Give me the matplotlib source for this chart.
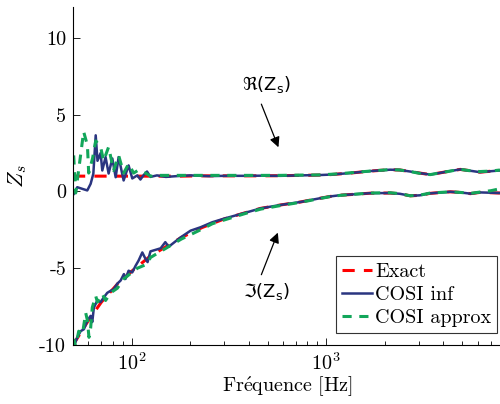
import matplotlib
matplotlib.use("Agg")
import matplotlib.pyplot as plt
import numpy as np
from matplotlib.ticker import LogLocator, LogFormatterMathtext, NullFormatter

plt.rcParams['font.family'] = ['cmr10', 'DejaVu Serif']
plt.rcParams['mathtext.fontset'] = 'cm'
plt.rcParams['axes.unicode_minus'] = False
plt.rcParams['axes.formatter.use_mathtext'] = True

# ---------------- data ----------------
# Exact
f_exact = [50, 60, 70, 85, 100, 125, 150, 180, 230, 300, 380, 460, 580, 740, 920, 1050,
           1180, 1330, 1680, 2130, 2390, 2700, 3020, 3420, 4330, 4880, 5500, 6150, 7000, 7800]
re_exact = [1.0, 1.0, 1.0, 1.0, 1.0, 1.0, 1.0, 1.0, 1.02, 1.02, 1.02, 1.02, 1.03, 1.05, 1.07, 1.1,
            1.15, 1.2, 1.33, 1.42, 1.4, 1.3, 1.2, 1.1, 1.33, 1.44, 1.35, 1.26, 1.32, 1.37]
im_exact = [-10.0, -8.4, -7.2, -6.0, -5.2, -4.2, -3.6, -3.0, -2.35, -1.78, -1.4, -1.1, -0.88, -0.68,
            -0.45, -0.32, -0.24, -0.2, -0.11, -0.1, -0.15, -0.28, -0.25, -0.12, -0.02, -0.06, -0.14,
            -0.06, -0.08, -0.1]

# common high-frequency abscissa for the COSI curves
f_hi = [300, 380, 460, 580, 740, 920, 1050, 1180, 1330, 1680, 2130, 2390, 2700, 3020, 3420,
        4330, 4880, 5500, 6150, 7000, 7800]

# COSI inf
f_inf_re_lo = [50.5, 52.6, 55.9, 59.2, 61.6, 63.6, 65.4, 66.8, 69.3, 70.7, 73.5, 76.2, 79.6,
               82.8, 85.8, 91, 96.5, 100.8, 107, 111, 115, 120, 125, 135, 150, 170, 200, 250]
re_inf_lo = [-0.15, 0.28, 0.17, 0.07, 0.5, 1.16, 3.66, 2.0, 2.5, 1.37, 2.24, 1.17, 2.15,
             0.93, 2.24, 0.72, 1.7, 0.85, 1.05, 0.78, 1.05, 1.3, 0.95, 1.05, 0.95, 1.0, 1.05, 1.0]
re_inf_hi = [1.02, 1.02, 1.03, 1.02, 1.05, 1.07, 1.1, 1.15, 1.2, 1.33, 1.42, 1.4, 1.3, 1.2, 1.1,
             1.33, 1.44, 1.35, 1.26, 1.32, 1.37]
f_inf_im_lo = [50.5, 52.6, 54.7, 56.9, 59.3, 61.6, 62.8, 64, 66.7, 69.3, 72, 75, 78, 81, 84.5,
               87.8, 91.3, 93, 96.5, 100.8, 104.8, 108.6, 113.5, 118, 120.8, 125, 132.8, 141,
               149, 155, 178, 201, 226, 260]
im_inf_lo = [-10.07, -9.5, -9.1, -8.97, -8.4, -8.1, -8.5, -7.56, -7.1, -7.2, -6.9, -6.6, -6.47,
             -6.36, -6.0, -5.8, -5.38, -5.7, -5.16, -5.27, -4.84, -4.5, -3.97, -4.4, -4.6, -3.9,
             -3.8, -3.7, -3.3, -3.6, -3.0, -2.55, -2.33, -2.0]
im_inf_hi = [-1.76, -1.4, -1.1, -0.88, -0.68, -0.45, -0.32, -0.24, -0.2, -0.11, -0.1, -0.15,
             -0.28, -0.25, -0.12, -0.02, -0.06, -0.14, -0.06, -0.08, -0.1]

# COSI approx
f_apx_re_lo = [50.4, 51.6, 54.1, 56.7, 59.3, 60.2, 63, 65.4, 69.3, 71.8, 76.2, 80.8, 85.8, 91,
               96.5, 102.4, 108.6, 118, 125, 140, 170, 200, 250]
re_apx_lo = [2.35, -0.1, 1.9, 3.9, 3.0, 1.2, 2.15, 3.3, 2.9, 2.0, 2.9, 1.37, 2.35, 1.2, 1.8,
             1.2, 1.4, 1.2, 1.0, 1.05, 1.05, 1.05, 1.05]
re_apx_hi = [1.05, 1.05, 1.05, 1.05, 1.07, 1.08, 1.12, 1.16, 1.22, 1.33, 1.43, 1.4, 1.3, 1.18,
             1.1, 1.33, 1.44, 1.35, 1.3, 1.33, 1.4]
f_apx_im_lo = [50.5, 51.6, 53.5, 55.9, 58.1, 59.3, 60.4, 61.6, 62.8, 65.4, 66.7, 70.7, 73.5, 78,
               84.5, 91, 107, 120, 125, 150, 180, 230, 260]
im_apx_lo = [-9.6, -10.1, -9.1, -9.3, -7.9, -8.4, -9.5, -8.9, -7.56, -6.8, -7.2, -6.67, -7.1,
             -6.6, -6.3, -5.7, -5.0, -4.73, -4.3, -3.7, -3.1, -2.45, -2.1]
im_apx_hi = [-1.85, -1.45, -1.15, -0.92, -0.7, -0.47, -0.33, -0.25, -0.2, -0.1, -0.08, -0.14,
             -0.28, -0.24, -0.1, -0.02, -0.06, -0.12, -0.04, 0.05, 0.18]

yticks = [-10, -5, 0, 5, 10]
ytick_labels = ['-10', '-5', '0', '5', '10']

# ---------------- plotting ----------------
c_red = '#ff0000'
c_blue = '#2a3580'
c_green = '#12a65a'

fig = plt.figure(figsize=(5.0, 4.04), dpi=100)
ax = fig.add_axes([0.146, 0.146, 0.856, 0.836])

ax.plot(f_exact, re_exact, color=c_red, lw=2.2, dashes=(4, 3), label='Exact')
ax.plot(f_exact, im_exact, color=c_red, lw=2.2, dashes=(4, 3))
ax.plot(f_inf_re_lo + f_hi, re_inf_lo + re_inf_hi, color=c_blue, lw=1.8, label='COSI inf')
ax.plot(f_inf_im_lo + f_hi, im_inf_lo + im_inf_hi, color=c_blue, lw=1.8)
ax.plot(f_apx_re_lo + f_hi, re_apx_lo + re_apx_hi, color=c_green, lw=2.2, dashes=(3, 2.5),
        label='COSI approx')
ax.plot(f_apx_im_lo + f_hi, im_apx_lo + im_apx_hi, color=c_green, lw=2.2, dashes=(3, 2.5))

ax.set_xscale('log')
ax.set_xlim(50, 7900)
ax.set_ylim(-10, 12)
ax.set_yticks(yticks)
ax.set_yticklabels(ytick_labels)
ax.xaxis.set_major_locator(LogLocator(base=10))
ax.xaxis.set_major_formatter(LogFormatterMathtext())
ax.xaxis.set_minor_locator(LogLocator(base=10, subs=np.arange(2, 10)))
ax.xaxis.set_minor_formatter(NullFormatter())

for s in ['top', 'right']:
    ax.spines[s].set_visible(False)
for s in ['left', 'bottom']:
    ax.spines[s].set_linewidth(0.8)
ax.tick_params(axis='both', which='major', direction='in', length=5, width=0.6,
               labelsize=14.5, pad=5)
ax.tick_params(axis='x', which='minor', direction='in', length=3, width=0.6)

ax.set_xlabel(r'$\mathrm{Fr\acute{e}quence\ [Hz]}$', fontsize=14.5, labelpad=1)
ax.set_ylabel(r'$Z_s$', fontsize=16, labelpad=7)

arrow = dict(arrowstyle='-|>', color='k', lw=0.9, mutation_scale=15, shrinkA=0, shrinkB=0)
ax.text(493, 7.0, r'$\Re(\mathrm{Z}_\mathrm{s})$', ha='center', va='center', fontsize=13,
        math_fontfamily='dejavusans')
ax.annotate('', xy=(568, 2.88), xytext=(464, 5.69), arrowprops=arrow)
ax.text(493, -6.5, r'$\Im(\mathrm{Z}_\mathrm{s})$', ha='center', va='center', fontsize=13,
        math_fontfamily='dejavusans')
ax.annotate('', xy=(564, -2.68), xytext=(464, -5.42), arrowprops=arrow)

leg = ax.legend(loc='lower right', bbox_to_anchor=(0.994, 0.176),
                bbox_transform=fig.transFigure, fontsize=14.5, handlelength=1.5,
                handletextpad=0.15, borderpad=0.3, labelspacing=0.25, borderaxespad=0,
                fancybox=False, framealpha=1, edgecolor='#333333')
leg.get_frame().set_linewidth(0.8)

fig.savefig('out.png', dpi=100)
